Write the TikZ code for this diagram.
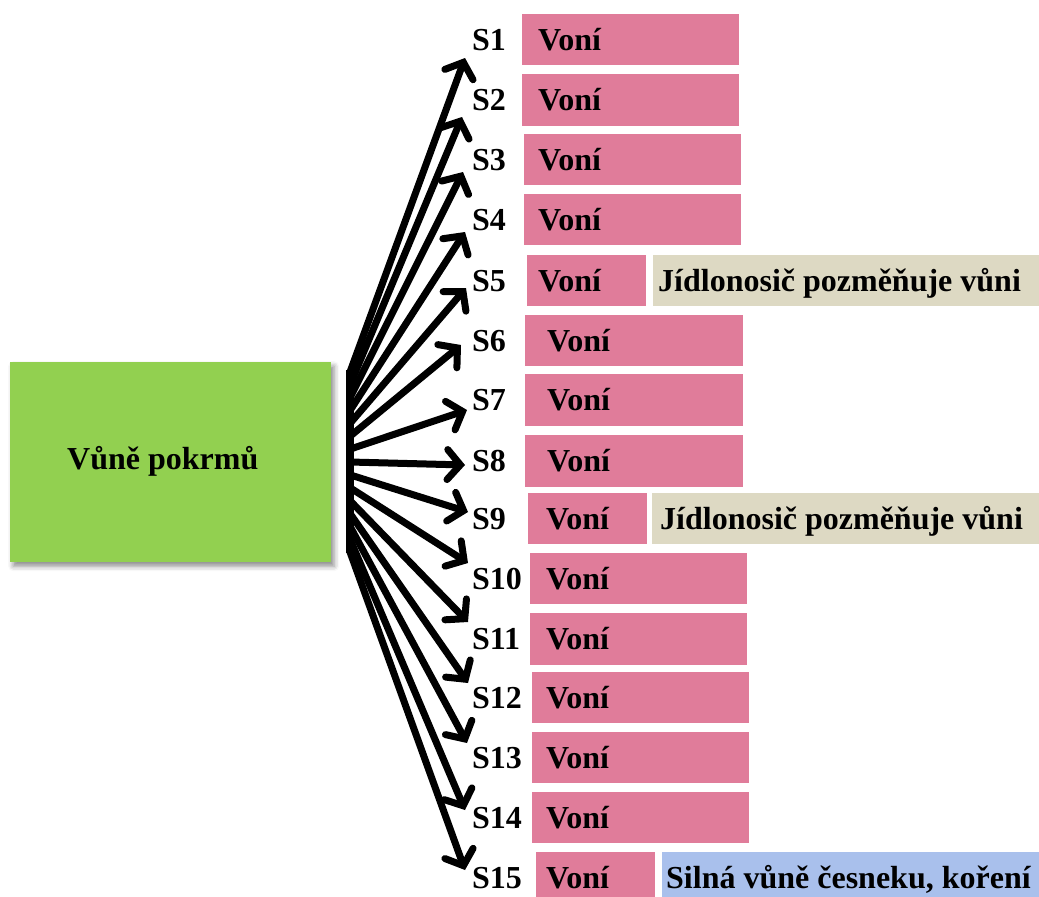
\documentclass[tikz,border=0pt]{standalone}
\usepackage{fontspec}
\setmainfont{Liberation Serif}
\usetikzlibrary{arrows.meta,shadows.blur}
\definecolor{leaf}{HTML}{92D050}
\definecolor{rose}{HTML}{E07C9A}
\definecolor{tanfill}{HTML}{DDD9C3}
\definecolor{skyfill}{HTML}{A9C0EC}
\tikzset{
  txt/.style={font=\fontsize{32}{36}\selectfont\bfseries, inner sep=0pt, anchor=base west},
  panel/.style={draw=none, inner sep=0pt, anchor=north west},
  pinkbox/.style={panel, fill=rose},
  tanbox/.style={panel, fill=tanfill},
  skybox/.style={panel, fill=skyfill},
  arr/.style={line width=7pt, line cap=round,
    -{Straight Barb[length=13pt,width=30pt,line cap=round]}},
}
\begin{document}
\begin{tikzpicture}[x=1pt,y=-1pt]
\useasboundingbox (0,0) rectangle (1039,897);

% source box
\node (src) [panel, fill=leaf, minimum width=321pt, minimum height=200pt,
  blur shadow={shadow xshift=3pt, shadow yshift=-4pt, shadow blur radius=5pt, shadow opacity=45}]
  at (10,362) {};
\node (srctext) [txt] at (67,469) {Vůně pokrmů};

% vertical bar the arrows fan out from
\coordinate (bt) at (350,370);
\coordinate (bb) at (350,553);
\draw[line width=8pt] (bt) -- (bb);

% rows: index / box left / box width / box top / box bottom / text x / tip x / tip y
\foreach \i/\bx/\bw/\yt/\yb/\tx/\px/\py in {
  1/522/217/14/65/538/465/58,
  2/522/217/74/126/538/462/117,
  3/524/217/134/185/538/463/172,
  4/524/217/194/245/538/465/232,
  5/527/119/255/306/538/466/288,
  6/525/218/315/366/547/461/345,
  7/525/218/374/426/547/467/410,
  8/525/218/435/487/547/465/465,
  9/528/119/493/544/546/468/512,
  10/530/217/553/604/546/468/563,
  11/530/217/613/665/546/468/622,
  12/532/217/672/723/546/468/683,
  13/532/217/732/783/546/467/743,
  14/532/217/792/843/546/465/810,
  15/536/119/852/903/546/465/870}
{
  \node (p\i) [pinkbox, minimum width=\bw pt, minimum height={(\yb-\yt)*1pt}] at (\bx,\yt) {};
  \node (v\i) [txt] at (\tx,{(\yt+\yb)/2+10.5}) {Voní};
  \node (l\i) [txt] at (472,{(\yt+\yb)/2+10.5}) {S\i};
  \coordinate (s\i) at (350,{372+12.857*(\i-1)});
  \coordinate (t\i) at (\px,\py);
  \draw[arr] (s\i) -- (t\i);
}

% remarks next to rows 5, 9 and 15
\node (n5) [tanbox, minimum width=400pt, minimum height=51pt] at (653,255) {};
\node (n5t) [txt] at (658,291) {Jídlonosič pozměňuje vůni};
\node (n9) [tanbox, minimum width=400pt, minimum height=51pt] at (652,493) {};
\node (n9t) [txt] at (660,529) {Jídlonosič pozměňuje vůni};
\node (n15) [skybox, minimum width=400pt, minimum height=51pt] at (662,852) {};
\node (n15t) [txt] at (666,888) {Silná vůně česneku, koření};
\end{tikzpicture}
\end{document}
